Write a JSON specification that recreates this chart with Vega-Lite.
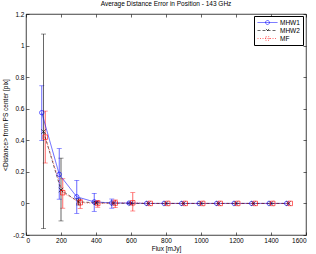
{
  "$schema": "https://vega.github.io/schema/vega-lite/v6.json",
  "width": 280,
  "height": 221,
  "autosize": {"type": "none"},
  "padding": {"left": 26, "top": 14, "right": 10, "bottom": 19},
  "title": {"text": "Average Distance Error in Position - 143 GHz", "fontSize": 6.5, "fontWeight": "normal", "font": "Liberation Sans", "color": "#000", "offset": 4, "anchor": "middle"},
  "config": {
    "font": "Liberation Sans",
    "view": {"stroke": "#000", "strokeWidth": 0.75},
    "axis": {"grid": false, "domain": false, "tickColor": "#000", "tickWidth": 0.6, "tickSize": -3, "labelPadding": 5, "labelFontSize": 6.5, "labelColor": "#000", "titleFontSize": 6.5, "titleFontWeight": "normal", "titleColor": "#000"}
  },
  "data": {"values": [
    {"series": "MHW1", "x": 90, "y": 0.575, "lo": 0.40, "hi": 0.745},
    {"series": "MHW1", "x": 190, "y": 0.184, "lo": 0.027, "hi": 0.347},
    {"series": "MHW1", "x": 290, "y": 0.042, "lo": -0.063, "hi": 0.146},
    {"series": "MHW1", "x": 390, "y": 0.010, "lo": -0.050, "hi": 0.064},
    {"series": "MHW1", "x": 490, "y": 0.003, "lo": -0.030, "hi": 0.028},
    {"series": "MHW1", "x": 590, "y": 0.002, "lo": -0.004, "hi": 0.008},
    {"series": "MHW1", "x": 690, "y": 0},
    {"series": "MHW1", "x": 790, "y": 0},
    {"series": "MHW1", "x": 890, "y": 0},
    {"series": "MHW1", "x": 990, "y": 0},
    {"series": "MHW1", "x": 1090, "y": 0},
    {"series": "MHW1", "x": 1190, "y": 0},
    {"series": "MHW1", "x": 1290, "y": 0},
    {"series": "MHW1", "x": 1390, "y": 0},
    {"series": "MHW1", "x": 1490, "y": 0},
    {"series": "MHW2", "x": 100, "y": 0.455, "lo": -0.160, "hi": 1.073},
    {"series": "MHW2", "x": 200, "y": 0.085, "lo": -0.111, "hi": 0.287},
    {"series": "MHW2", "x": 300, "y": 0.010, "lo": -0.010, "hi": 0.030},
    {"series": "MHW2", "x": 400, "y": 0.004, "lo": -0.004, "hi": 0.012},
    {"series": "MHW2", "x": 500, "y": 0.002},
    {"series": "MHW2", "x": 600, "y": 0},
    {"series": "MHW2", "x": 700, "y": 0},
    {"series": "MHW2", "x": 800, "y": 0},
    {"series": "MHW2", "x": 900, "y": 0},
    {"series": "MHW2", "x": 1000, "y": 0},
    {"series": "MHW2", "x": 1100, "y": 0},
    {"series": "MHW2", "x": 1200, "y": 0},
    {"series": "MHW2", "x": 1300, "y": 0},
    {"series": "MHW2", "x": 1400, "y": 0},
    {"series": "MHW2", "x": 1500, "y": 0},
    {"series": "MF", "x": 110, "y": 0.420, "lo": 0.256, "hi": 0.585},
    {"series": "MF", "x": 210, "y": 0.068, "lo": -0.030, "hi": 0.156},
    {"series": "MF", "x": 310, "y": 0.005, "lo": -0.031, "hi": 0.026},
    {"series": "MF", "x": 410, "y": 0.000, "lo": -0.024, "hi": 0.018},
    {"series": "MF", "x": 510, "y": 0.002, "lo": -0.027, "hi": 0.022},
    {"series": "MF", "x": 610, "y": 0.004, "lo": -0.048, "hi": 0.068},
    {"series": "MF", "x": 710, "y": 0},
    {"series": "MF", "x": 810, "y": 0},
    {"series": "MF", "x": 910, "y": 0},
    {"series": "MF", "x": 1010, "y": 0},
    {"series": "MF", "x": 1110, "y": 0},
    {"series": "MF", "x": 1210, "y": 0},
    {"series": "MF", "x": 1310, "y": 0},
    {"series": "MF", "x": 1410, "y": 0},
    {"series": "MF", "x": 1510, "y": 0}
  ]},
  "resolve": {"axis": {"x": "independent", "y": "independent"}, "legend": {"color": "independent", "shape": "independent", "strokeDash": "independent"}},
  "layer": [
    {
      "mark": {"type": "errorbar", "ticks": {"size": 5, "thickness": 0.6}, "thickness": 0.6},
      "encoding": {
        "x": {"field": "x", "type": "quantitative", "scale": {"domain": [0, 1600]}, "axis": null},
        "y": {"field": "lo", "type": "quantitative", "scale": {"domain": [-0.2, 1.2]}, "axis": null},
        "y2": {"field": "hi"},
        "color": {"field": "series", "type": "nominal", "scale": {"domain": ["MHW1", "MHW2", "MF"], "range": ["#0000ff", "#000000", "#ff0000"]}, "legend": null},
        "detail": {"field": "series"}
      }
    },
    {
      "mark": {"type": "line", "strokeWidth": 0.6},
      "encoding": {
        "x": {"field": "x", "type": "quantitative", "title": "Flux [mJy]", "axis": {"orient": "bottom", "values": [0, 200, 400, 600, 800, 1000, 1200, 1400, 1600], "format": "d", "titlePadding": 2}},
        "y": {"field": "y", "type": "quantitative", "title": "<Distance> from PS center [pix]", "axis": {"orient": "left", "values": [-0.2, 0, 0.2, 0.4, 0.6, 0.8, 1, 1.2], "labelExpr": "datum.value < 0 ? '-' + format(-datum.value, '.1~f') : format(datum.value, '.1~f')", "titlePadding": 4}},
        "color": {"field": "series", "type": "nominal", "legend": {
          "title": null, "orient": "none", "legendX": 228, "legendY": 2,
          "strokeColor": "#000", "fillColor": "#fff", "padding": 3,
          "labelFontSize": 6.5, "labelColor": "#000", "labelOffset": 2,
          "symbolSize": 400, "symbolStrokeWidth": 0.6, "clipHeight": 7, "rowPadding": 1,
          "encode": {"symbols": {"update": {
            "shape": {"signal": "datum.value === 'MHW1' ? 'M-1,0L1,0M-0.2,0A0.2,0.2,0,1,1,0.2,0A0.2,0.2,0,1,1,-0.2,0' : datum.value === 'MHW2' ? 'M-1,0L1,0M-0.16,-0.16L0.16,0.16M0.16,-0.16L-0.16,0.16' : 'M-1,0L1,0M-0.18,-0.18L0.18,-0.18L0.18,0.18L-0.18,0.18Z'"},
            "strokeDash": {"signal": "datum.value === 'MHW2' ? [3,2] : datum.value === 'MF' ? [1,1.5] : [1,0]"},
            "fill": {"value": "transparent"}
          }}}
        }},
        "strokeDash": {"field": "series", "type": "nominal", "scale": {"domain": ["MHW1", "MHW2", "MF"], "range": [[1, 0], [3, 2], [1, 1.5]]}, "legend": null}
      }
    },
    {
      "mark": {"type": "point", "filled": false, "size": 20, "strokeWidth": 0.6, "opacity": 1},
      "encoding": {
        "x": {"field": "x", "type": "quantitative", "axis": {"orient": "top", "values": [0, 200, 400, 600, 800, 1000, 1200, 1400, 1600], "labels": false, "title": null}},
        "y": {"field": "y", "type": "quantitative", "axis": {"orient": "right", "values": [-0.2, 0, 0.2, 0.4, 0.6, 0.8, 1, 1.2], "labels": false, "title": null}},
        "color": {"field": "series", "type": "nominal", "legend": null},
        "shape": {"field": "series", "type": "nominal", "scale": {"domain": ["MHW1", "MHW2", "MF"], "range": ["circle", "M-1,-1L1,1M1,-1L-1,1", "square"]}, "legend": null}
      }
    }
  ]
}
